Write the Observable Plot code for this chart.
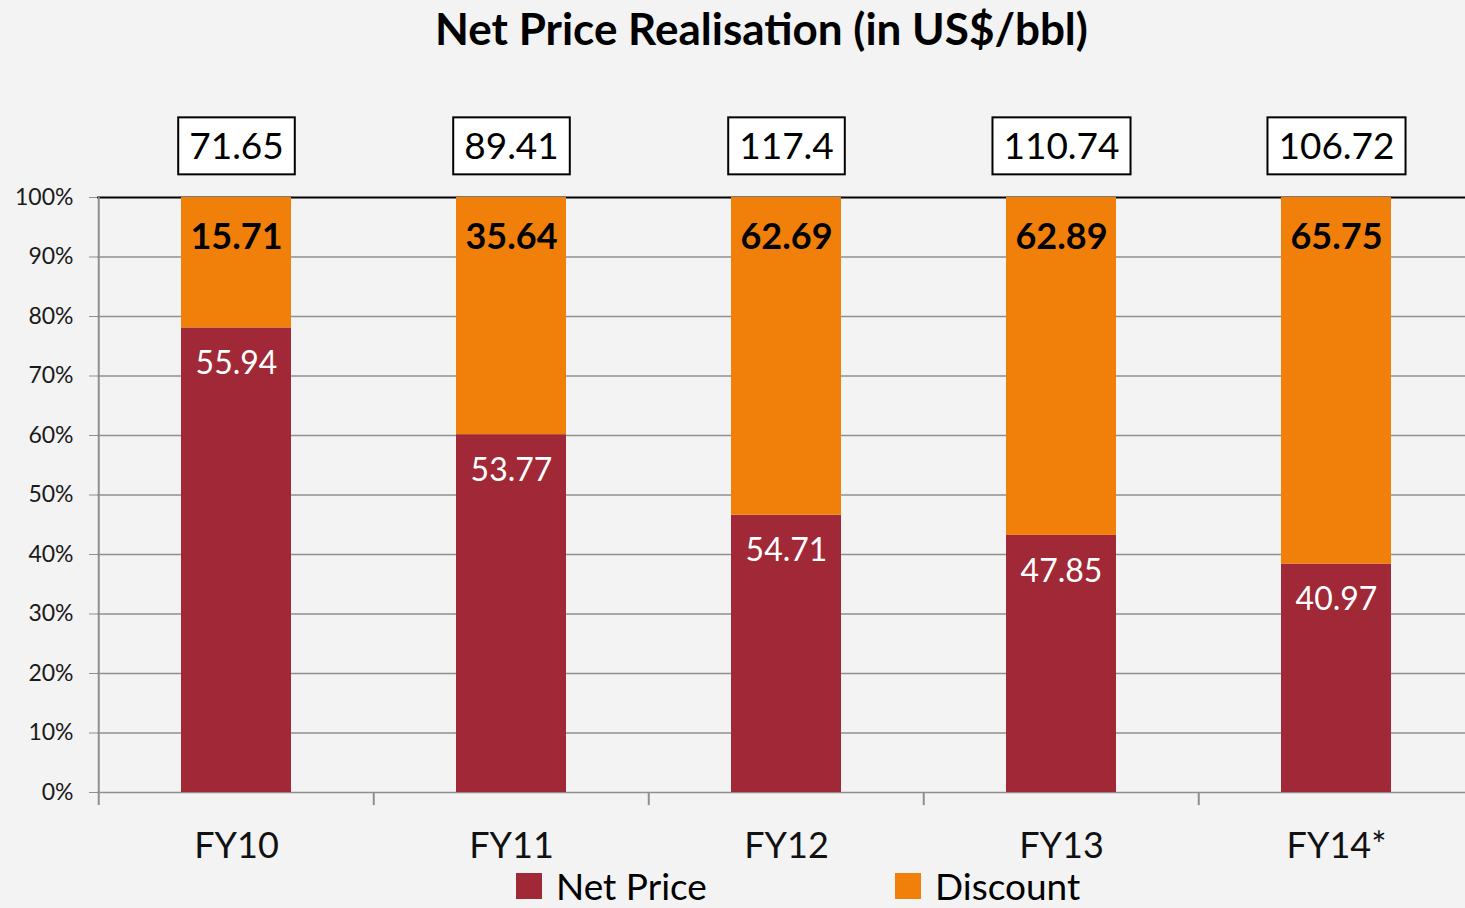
<!DOCTYPE html>
<html>
<head>
<meta charset="utf-8">
<script src="https://cdn.jsdelivr.net/npm/d3@7"></script>
<script src="https://cdn.jsdelivr.net/npm/@observablehq/plot@0.6"></script>
<style>
html, body { margin: 0; padding: 0; }
body { width: 1465px; height: 908px; overflow: hidden; background: #f3f3f3; font-family: Lato, "Open Sans", sans-serif; position: relative; color: #000; }
#title { position: absolute; left: 29px; top: 0; width: 1465px; height: 60px; text-align: center; font-weight: bold; font-size: 44px; line-height: 56px; }
#chart { position: absolute; left: 0; top: 60px; }
#legend { position: absolute; left: 0; top: 864px; width: 1465px; height: 44px; }
.item { position: absolute; top: 0; height: 44px; display: flex; align-items: center; font-size: 37px; line-height: 44px; }
.sw { width: 26px; height: 26px; margin-right: 14px; }
</style>
</head>
<body>
<div id="title">Net Price Realisation (in US$/bbl)</div>
<div id="chart"></div>
<div id="legend"></div>
<script>
const years = ["FY10", "FY11", "FY12", "FY13", "FY14*"];
const netPrice = [55.94, 53.77, 54.71, 47.85, 40.97];
const discount = [15.71, 35.64, 62.69, 62.89, 65.75];
const totals = [71.65, 89.41, 117.4, 110.74, 106.72];
const series = ["Net Price", "Discount"];
const colors = ["#a02837", "#f0800a"];
const yTicks = [0, 0.1, 0.2, 0.3, 0.4, 0.5, 0.6, 0.7, 0.8, 0.9, 1];

const rows = years.flatMap((y, i) => [
  {year: y, series: "Net Price", value: netPrice[i]},
  {year: y, series: "Discount", value: discount[i]}
]);
const labels = years.map((y, i) => ({
  year: y, net: netPrice[i], disc: discount[i], total: totals[i],
  share: netPrice[i] / (netPrice[i] + discount[i])
}));

const x0 = 97, x1 = 1474.5;
const step = (x1 - x0) / years.length;

const chart = Plot.plot({
  width: 1465,
  height: 804,
  marginTop: 137,
  marginBottom: 72,
  marginLeft: 97,
  marginRight: 0,
  style: {background: "transparent", fontFamily: "Lato, 'Open Sans', sans-serif", overflow: "visible"},
  x: {type: "band", domain: years, range: [x0, x1], paddingInner: 0.6, paddingOuter: 0.3, axis: null, label: null},
  y: {domain: [0, 1], axis: null, label: null},
  color: {domain: series, range: colors},
  marks: [
    Plot.ruleY(yTicks.slice(0, -1), {stroke: "#8f8f8f", strokeWidth: 1.5}),
    Plot.ruleY([1], {stroke: "#000", strokeWidth: 2}),
    Plot.barY(rows, Plot.stackY({offset: "normalize", x: "year", y: "value", fill: "series", order: series})),
    Plot.ruleX([years[0]], {x: d => d, dx: -step / 2, y1: -0.022, y2: 1, stroke: "#8f8f8f", strokeWidth: 2}),
    Plot.ruleX(years.slice(1), {x: d => d, dx: -step / 2, y1: 0, y2: -0.022, stroke: "#8f8f8f", strokeWidth: 2}),
    Plot.axisY({ticks: yTicks, tickFormat: d3.format(".0%"), tickSize: 8, tickPadding: 16, fontSize: 23, stroke: "#8f8f8f", fill: "#1a1a1a", label: null}),
    Plot.axisX({tickSize: 0, tickPadding: 40, fontSize: 36, fill: "#111", label: null}),
    Plot.text(labels, {x: "year", y: 1, text: d => d.disc.toFixed(2), dy: 40, fontSize: 36, fontWeight: "bold", fill: "#000"}),
    Plot.text(labels, {x: "year", y: "share", text: d => d.net.toFixed(2), dy: 36, fontSize: 32, fill: "#fff"}),
    Plot.text(labels, {x: "year", y: 1, text: d => String(d.total), dy: -50, fontSize: 37, fill: "#000"})
  ]
});
document.getElementById("chart").appendChild(chart);

// white framed boxes behind the total labels
const totalStrings = new Set(totals.map(String));
Array.from(chart.querySelectorAll("text"))
  .filter(t => totalStrings.has(t.textContent.trim()))
  .forEach(t => {
    const b = t.getBBox();
    const r = document.createElementNS("http://www.w3.org/2000/svg", "rect");
    const padX = 11, padY = 7;
    r.setAttribute("x", b.x - padX);
    r.setAttribute("y", b.y - padY + 2);
    r.setAttribute("width", b.width + 2 * padX);
    r.setAttribute("height", b.height + 2 * padY - 2);
    r.setAttribute("fill", "#fff");
    r.setAttribute("stroke", "#000");
    r.setAttribute("stroke-width", 2);
    const tr = t.getAttribute("transform");
    if (tr) r.setAttribute("transform", tr);
    t.parentNode.insertBefore(r, t);
  });

// legend
const legend = document.getElementById("legend");
const legendLeft = [516, 895];
series.forEach((s, i) => {
  const item = document.createElement("div");
  item.className = "item";
  item.style.left = legendLeft[i] + "px";
  item.innerHTML = `<div class="sw" style="background:${colors[i]}"></div><span>${s}</span>`;
  legend.appendChild(item);
});
</script>
</body>
</html>
